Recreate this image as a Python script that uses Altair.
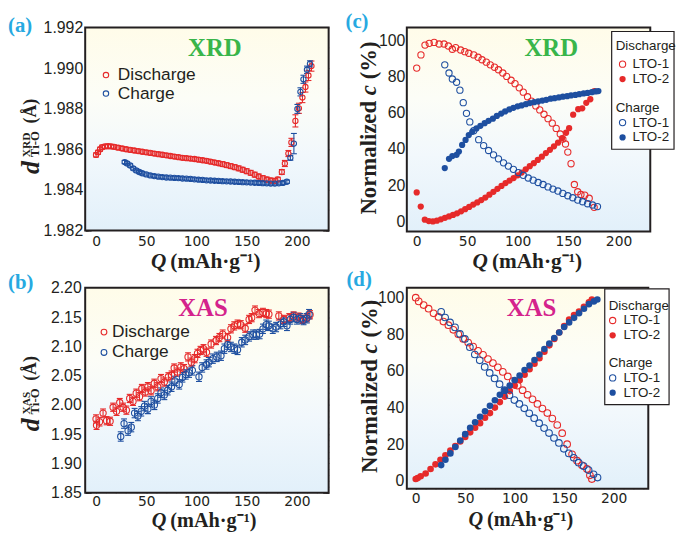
import altair as alt
import pandas as pd

# ---------------- data ----------------
# (a) XRD Ti-O distance
QA_DIS = [0, 2, 4, 6, 9, 12, 15, 18, 22, 26, 30, 34, 38, 42, 46, 50, 54, 58, 62, 66, 70, 74, 78, 82, 86, 90,
          94, 98, 102, 106, 110, 114, 118, 122, 126, 130, 134, 138, 142, 146, 150, 154, 158, 162, 166, 170,
          174, 178, 181, 185, 188, 191.5, 194.5, 198.5, 202, 205.5, 208.5, 211.5, 214.5]
DA_DIS = [1.98572, 1.98585, 1.98600, 1.98610, 1.98614, 1.98615, 1.98614, 1.98612,
          1.98608, 1.98604, 1.98600, 1.98597, 1.98594, 1.98591, 1.98588, 1.98585, 1.98582, 1.98579,
          1.98576, 1.98573, 1.98570, 1.98567, 1.98564, 1.98561, 1.98558, 1.98556, 1.98554, 1.98552,
          1.98549, 1.98546, 1.98543, 1.98539, 1.98535, 1.98531, 1.98527, 1.98522, 1.98517, 1.98512,
          1.98506, 1.98499, 1.98492, 1.98484, 1.98475, 1.98466, 1.98458, 1.98451, 1.98446, 1.98444,
          1.98452, 1.98488, 1.98530, 1.98579, 1.98634, 1.98740, 1.98802, 1.98855, 1.98907, 1.98964, 1.99010]
EA_DIS = [0.00010] * 34 + [0.00012] * 14 + [0.00010, 0.00012, 0.00015, 0.00015, 0.00020, 0.00030,
                                             0.00025, 0.00025, 0.00025, 0.00025, 0.00025]
QA_CHG = [28.5, 31, 34, 37, 40, 43, 46, 50, 54, 58, 62, 66, 70, 74, 78, 82, 86, 90, 94, 98, 102, 106, 110,
          114, 118, 122, 126, 130, 134, 138, 142, 146, 150, 154, 158, 162, 166, 170, 174, 178, 182, 186, 190,
          193.5, 197, 200.5, 203.5, 206.5, 210, 213]
DA_CHG = [1.98537, 1.98530, 1.98520, 1.98506, 1.98496, 1.98488, 1.98482,
          1.98476, 1.98471, 1.98468, 1.98465, 1.98463, 1.98461, 1.98460, 1.98459, 1.98458, 1.98456,
          1.98455, 1.98454, 1.98452, 1.98450, 1.98449, 1.98447, 1.98446, 1.98445, 1.98444, 1.98443,
          1.98442, 1.98441, 1.98440, 1.98439, 1.98438, 1.98437, 1.98436, 1.98435, 1.98434, 1.98433,
          1.98432, 1.98431, 1.98431, 1.98432, 1.98434, 1.98440,
          1.98558, 1.98628, 1.98799, 1.98883, 1.98945, 1.98992, 1.99021]
EA_CHG = [0.00008] * 43 + [0.00012, 0.00050, 0.00022, 0.00020, 0.00020, 0.00018, 0.00015]

# (b) XAS Ti-O distance
QB_DIS = [0, 0.5, 3.5, 7, 10.5, 14, 17, 20.4, 23.6, 26.9, 30.2, 33.5, 36.8, 40, 43.3, 45.6, 49, 51.6, 54.8,
          58, 61.4, 64.7, 68, 72, 75.2, 77.8, 81, 84.4, 87.7, 91.6, 94.9, 98.2, 101, 104, 107, 110, 114.6,
          119.5, 122.8, 126.1, 131, 134.3, 137.6, 140.9, 144.1, 148.5, 152.4, 155, 158.3, 162.3, 166.2,
          169.5, 172.1, 182, 186.9, 192.4, 196.7, 201.7, 205.6, 209.9, 213.1]
DB_DIS = [1.976, 1.965, 1.971, 1.986, 1.973, 1.972, 1.996, 1.989, 2.004, 1.996, 1.991, 2.011, 2.006, 2.020,
          2.014, 2.028, 2.022, 2.031, 2.024, 2.037, 2.031, 2.045, 2.039, 2.048, 2.051, 2.063, 2.056, 2.065,
          2.062, 2.082, 2.073, 2.079, 2.088, 2.093, 2.096, 2.090, 2.104, 2.110, 2.115, 2.121, 2.115, 2.130,
          2.135, 2.138, 2.137, 2.131, 2.146, 2.149, 2.162, 2.156, 2.158, 2.156, 2.155, 2.152, 2.146, 2.149,
          2.152, 2.150, 2.146, 2.149, 2.154]
EB_DIS = [0.007] * 61
QB_CHG = [24.6, 27.9, 31.9, 35.1, 38.4, 41.7, 45, 48.3, 51.6, 54.8, 58.1, 61.4, 64.7, 68, 71.3, 75.2, 78.5,
          82.8, 86, 89.3, 92.6, 95.9, 102.5, 105.7, 110, 112.3, 116.3, 120.2, 124.4, 127.8, 131, 134.3,
          137.6, 140.9, 145.1, 148.5, 152.4, 156.3, 159.6, 162.9, 166.2, 169.5, 172.1, 176, 179.3, 183.6,
          186.9, 190.1, 193.4, 196.7, 200, 203.3, 206.6, 209.9, 212.1]
DB_CHG = [1.946, 1.968, 1.956, 1.962, 1.986, 1.981, 1.989, 1.998, 1.993, 2.006, 2.000, 2.011, 2.021, 2.017,
          2.025, 2.031, 2.041, 2.035, 2.047, 2.052, 2.055, 2.059, 2.048, 2.064, 2.069, 2.073, 2.079, 2.082,
          2.084, 2.096, 2.103, 2.099, 2.096, 2.094, 2.107, 2.111, 2.117, 2.120, 2.120, 2.121, 2.130, 2.137,
          2.135, 2.130, 2.133, 2.138, 2.142, 2.135, 2.146, 2.150, 2.146, 2.148, 2.145, 2.148, 2.155]
EB_CHG = [0.008] * 55

# (c) XRD normalized c
QC_D1 = [0, 4.2, 8.2, 12.4, 17.3, 22.2, 27.1, 31.4, 35.3, 38.6, 43.5, 47.7, 51.6, 56.5, 60.8, 64.7, 69,
         72.9, 77.1, 81, 85.3, 89.2, 93.5, 97.4, 101.6, 105.6, 109.8, 113.7, 118, 121.9, 126.1, 130.1,
         134.3, 138.2, 142.2, 144.8, 147.4, 149.7, 152.9, 156.2, 159.5, 162.7, 166.5, 170.9, 175.8]
VC_D1 = [84.7, 92.0, 97.4, 98.4, 98.9, 98.0, 98.0, 96.9, 95.1, 96.0, 94.7, 93.8, 92.9, 92.0, 90.7, 89.3,
         88.0, 86.5, 85.2, 83.8, 82.0, 80.1, 78.0, 76.1, 73.8, 71.4, 68.9, 66.5, 63.8, 61.6, 59.2, 56.8,
         54.3, 51.4, 48.3, 45.5, 42.8, 38.3, 31.9, 20.4, 16.4, 14.9, 14.5, 12.8, 7.8]
QC_D2 = [0, 4, 8, 12, 16, 20, 24, 28, 32, 36, 40, 44, 48, 52, 56, 60, 64, 68, 72, 76, 80, 84, 88, 92, 96,
         100, 104, 108, 112, 116, 120, 124, 128, 132, 136, 140, 144, 148, 151, 155, 160, 164, 168, 172, 176]
VC_D2 = [16, 8.2, 1, 0.2, 0, 0.4, 1.2, 2.0, 2.8, 3.6, 4.5, 5.6, 6.8, 8.0, 9.3, 10.5, 11.8, 13.2, 14.8,
         16.4, 18, 19.6, 21.2, 22.6, 24, 25.5, 27, 28.8, 30.5, 32.2, 34, 35.8, 37.8, 39.6, 41.5, 43.5, 46,
         49, 51.5, 59, 62, 62.5, 65.5, 67.5, 72]
QC_C1 = [27.8, 32, 35.3, 39.5, 42.8, 46.1, 49.3, 52.6, 56.5, 61.4, 66.3, 71.2, 76.1, 81, 86, 90.8, 95.8,
         100.7, 105.6, 110.5, 115.4, 120.3, 125.2, 130.1, 135, 139.9, 144.8, 149.7, 154.6, 159.5, 164.4,
         169.3, 174.2, 179.1]
VC_C1 = [86.5, 82, 78.7, 76.9, 72.5, 65.6, 59.7, 55, 50.1, 45.2, 41.9, 39.2, 36.8, 34.6, 32.4, 30.6, 28.8,
         27, 25.5, 24, 22.8, 21.5, 20.4, 19.1, 17.9, 16.8, 15.5, 14.2, 13.1, 11.8, 10.9, 9.8, 9.1, 8.2]
QC_C2 = [27.8, 32, 35.3, 39.5, 41.8, 45, 48.4, 51.6, 55, 59.2, 63.1, 67.3, 71.2, 75.5, 79.4, 83.7, 87.6,
         91.8, 95.8, 100, 103.9, 108.2, 112.1, 116.3, 120.3, 124.5, 128.4, 132.7, 136.6, 140.8, 144.8, 149,
         152.9, 157.2, 161.1, 165.4, 169.3, 173.5, 177.5, 180]
VC_C2 = [29.5, 34.6, 36.1, 36.8, 38.6, 42.3, 45, 47.7, 49.5, 51.4, 52.8, 54.3, 55.6, 56.8, 58.3, 59.6, 60.8,
         61.9, 62.8, 63.6, 64.1, 64.8, 65.4, 65.9, 66.3, 66.8, 67.2, 67.8, 68.1, 68.5, 68.9, 69.2, 69.6,
         69.9, 70.3, 70.7, 71, 71.4, 71.8, 72]

# (d) XAS normalized c
QD_D1 = [0, 3, 8, 13, 18, 23, 28, 33, 38, 43, 48, 53, 58, 63, 68, 73, 78, 83, 88, 93, 98, 103, 108, 113,
         118, 123, 128, 133, 138, 143, 148, 153, 158, 163, 168, 173, 176, 178]
VD_D1 = [100, 98, 96, 94, 91.5, 89.5, 87, 85, 82.5, 80, 77.5, 75.5, 73.3, 71, 68.8, 66.5, 64.3, 62, 59.5,
         57, 54.5, 52, 49.5, 47, 44.5, 42, 39.5, 37, 34, 30.5, 26, 20, 14.5, 11, 8.5, 6.5, 3, 1]
QD_D2 = [0, 2, 5, 10, 15, 20, 25, 30, 35, 40, 45, 50, 55, 60, 65, 70, 75, 80, 85, 90, 95, 100, 105, 110,
         115, 120, 125, 130, 135, 140, 145, 150, 155, 160, 165, 170, 175, 178]
VD_D2 = [1, 1.5, 2.5, 4, 6.5, 9, 11.5, 14, 16.5, 19, 21.5, 24, 26.5, 29, 31.5, 34.5, 37, 40, 43, 46, 49, 52,
         55, 58, 61, 64, 67, 70.5, 74, 77.5, 81, 84.5, 88, 90.5, 92.5, 95, 97.5, 99]
QD_C1 = [25.7, 29.7, 34.7, 39.7, 44.7, 49.7, 54.7, 59.7, 64.7, 69.7, 74.7, 79.7, 84.7, 89.7, 94.7, 99.7,
         104.7, 109.7, 114.7, 119.7, 124.7, 129.7, 134.7, 139.7, 144.7, 149.7, 154.7, 159.7, 164.7, 169.7,
         174.7, 179.7, 183.7]
VD_C1 = [92.3, 89.2, 86.5, 83.8, 80.2, 77.5, 73, 69, 65.8, 62.2, 58.9, 55.9, 52.8, 49.5, 46.8, 44.1, 42,
         39.6, 36.9, 34.2, 31.5, 28.8, 26.1, 23.4, 20.7, 17.5, 15, 12.6, 9.9, 8.1, 5.9, 3.6, 1.8]
QD_C2 = [25.7, 30, 35, 40, 45, 50, 55, 60, 65, 70, 75, 80, 85, 90, 95, 100, 105, 110, 115, 120, 125, 130,
         135, 140, 145, 150, 155, 160, 165, 170, 175, 180, 183.5]
VD_C2 = [8.6, 11.5, 15, 18.5, 22, 25.5, 29, 32, 35, 38, 41, 44, 47, 49.5, 52, 55, 57.5, 60.5, 63, 66, 69,
         72, 75, 78, 81, 84, 86.5, 89, 91.5, 94, 96.5, 98, 99]

# tick values
X_MAJ = [0, 50, 100, 150, 200]
X_MIN = [0, 10, 20, 30, 40, 50, 60, 70, 80, 90, 100, 110, 120, 130, 140, 150, 160, 170, 180, 190, 200,
         210, 220, 230]
YA_MAJ = [1.982, 1.984, 1.986, 1.988, 1.990, 1.992]
YA_MIN = [1.982, 1.983, 1.984, 1.985, 1.986, 1.987, 1.988, 1.989, 1.990, 1.991, 1.992]
YB_MAJ = [1.85, 1.90, 1.95, 2.00, 2.05, 2.10, 2.15, 2.20]
YB_MIN = [round(1.85 + 0.01 * i, 2) for i in range(36)]
YC_MAJ = [0, 20, 40, 60, 80, 100]
YC_MIN = [0, 5, 10, 15, 20, 25, 30, 35, 40, 45, 50, 55, 60, 65, 70, 75, 80, 85, 90, 95, 100, 105]

# ---------------- style ----------------
INK = "#231F20"
RED = "#E62A2A"
BLUE = "#1E4FA0"
GREEN = "#39B54A"
MAGENTA = "#D4238C"
CYAN = "#27A9E1"
SERIF = "Liberation Serif"
SANS = "Liberation Sans"
XFONT = "DejaVu Sans"
ONE = pd.DataFrame({"k": [0]})
GRAD = alt.LinearGradient(
    gradient="linear",
    stops=[alt.GradientStop(color="#FFFCE9", offset=0),
           alt.GradientStop(color="#FCFDF7", offset=0.35),
           alt.GradientStop(color="#F2F8FC", offset=0.62),
           alt.GradientStop(color="#E2F0FA", offset=1)],
    x1=0, x2=0, y1=0, y2=1)
FULL = dict(x=alt.value(0), x2=alt.value("width"), y=alt.value(0), y2=alt.value("height"))


def txt(text, x, y, size, color=INK, font=SERIF, weight="bold", style="normal",
        align="left", baseline="alphabetic", angle=0):
    return alt.Chart(ONE).mark_text(
        text=text, font=font, fontSize=size, fontWeight=weight, fontStyle=style,
        align=align, baseline=baseline, angle=angle, color=color
    ).encode(x=alt.value(x), y=alt.value(y))


def sym(x, y, color, filled, size):
    return alt.Chart(ONE).mark_point(
        shape="circle", filled=filled, size=size, color=color, opacity=1, strokeWidth=1.1
    ).encode(x=alt.value(x), y=alt.value(y))


def frame_layers():
    bg = alt.Chart(ONE).mark_rect(fill=GRAD, strokeWidth=0).encode(**FULL)
    fr = alt.Chart(ONE).mark_rect(filled=False, stroke=INK, strokeWidth=2).encode(**FULL)
    return bg, fr


def axis_layers(df, xs, ys, ymaj, ymin, yfmt, xlp, ylp):
    base = dict(domain=False, grid=False, title=None, tickColor=INK, tickWidth=1.2)
    lab = dict(labelColor=INK, labelOverlap=False, labelFlush=False)
    specs = [
        (alt.Axis(orient="bottom", values=X_MAJ, tickSize=6, offset=-6, labels=True, format="d",
                  labelFont=XFONT, labelFontSize=14, labelPadding=xlp, **lab, **base),
         alt.Axis(orient="left", values=ymaj, tickSize=6, offset=-6, labels=True, format=yfmt,
                  labelFont=SANS, labelFontSize=16, labelPadding=ylp, **lab, **base)),
        (alt.Axis(orient="bottom", values=X_MIN, tickSize=3, offset=-3, labels=False, **base),
         alt.Axis(orient="left", values=ymin, tickSize=3, offset=-3, labels=False, **base)),
        (alt.Axis(orient="top", values=X_MAJ, tickSize=6, offset=-6, labels=False, **base),
         alt.Axis(orient="right", values=ymaj, tickSize=6, offset=-6, labels=False, **base)),
        (alt.Axis(orient="top", values=X_MIN, tickSize=3, offset=-3, labels=False, **base),
         alt.Axis(orient="right", values=ymin, tickSize=3, offset=-3, labels=False, **base)),
    ]
    out = []
    for ax, ay in specs:
        out.append(alt.Chart(df).mark_point(opacity=0).encode(
            x=alt.X("Q:Q", scale=xs, axis=ax), y=alt.Y("v:Q", scale=ys, axis=ay)))
    return out


def series_df(q, v, e=None):
    d = pd.DataFrame({"Q": q, "v": v})
    if e is not None:
        d["lo"] = d["v"] - pd.Series(e)
        d["hi"] = d["v"] + pd.Series(e)
    return d


def err_layers(df, xs, ys, color):
    X = alt.X("Q:Q", scale=xs, axis=None)
    rule = alt.Chart(df).mark_rule(color=color, strokeWidth=1.1).encode(
        x=X, y=alt.Y("lo:Q", scale=ys, axis=None), y2="hi:Q")
    lo = alt.Chart(df).mark_tick(orient="horizontal", size=6, thickness=1.1, color=color, opacity=1).encode(
        x=X, y=alt.Y("lo:Q", scale=ys, axis=None))
    hi = alt.Chart(df).mark_tick(orient="horizontal", size=6, thickness=1.1, color=color, opacity=1).encode(
        x=X, y=alt.Y("hi:Q", scale=ys, axis=None))
    return [rule, lo, hi]


def pts(df, xs, ys, color, filled, size):
    return alt.Chart(df).mark_point(shape="circle", filled=filled, size=size, color=color,
                                    opacity=1, strokeWidth=1.1).encode(
        x=alt.X("Q:Q", scale=xs, axis=None), y=alt.Y("v:Q", scale=ys, axis=None))


def ytitle_d(sup, A):
    return [txt("d", -47, A, 26, style="italic", angle=270),
            txt(sup, -56, A - 17, 11.5, angle=270),
            txt("Ti-O", -47, A - 17, 13, angle=270),
            txt("(Å)", -49.6, A - 51, 18, angle=270)]


def ytitle_c(bx, start):
    return [txt("Normalized", bx, start, 23, angle=270),
            txt("c", bx, start - 120.7, 23, style="italic", angle=270),
            txt("(%)", bx, start - 136.7, 23, angle=270)]


def xtitle(qx, base, size):
    return [txt("Q", qx, base, size, style="italic", align="right"),
            txt("(mAh·g⁻¹)", qx + 4, base, size)]


def legend4(bx0, bx1, by0, by1, tx, cx, lx, rows, size):
    out = [alt.Chart(ONE).mark_rect(fill="white", stroke=INK, strokeWidth=1.2).encode(
        x=alt.value(bx0), x2=alt.value(bx1), y=alt.value(by0), y2=alt.value(by1))]
    labels = [("Discharge", None, None), ("LTO-1", RED, False), ("LTO-2", RED, True),
              ("Charge", None, None), ("LTO-1", BLUE, False), ("LTO-2", BLUE, True)]
    for (lab, col, fil), yy in zip(labels, rows):
        if col is None:
            out.append(txt(lab, tx, yy, 13.5, font=SANS, weight="normal", baseline="middle"))
        else:
            out.append(sym(cx, yy, col, fil, size))
            out.append(txt(lab, lx, yy, 13.5, font=SANS, weight="normal", baseline="middle"))
    return out


def legend2(cx, tx, y1, y2, size):
    return [sym(cx, y1, RED, False, size),
            txt("Discharge", tx, y1, 17.5, font=SANS, weight="normal", baseline="middle"),
            sym(cx, y2, BLUE, False, size),
            txt("Charge", tx, y2, 17.5, font=SANS, weight="normal", baseline="middle")]


def panel(layers, w, h):
    return alt.layer(*layers).resolve_axis(x="independent", y="independent").properties(width=w, height=h)


# ---------------- panel (a) ----------------
xsA = alt.Scale(domain=[-10.8, 231.6], nice=False, zero=False)
ysA = alt.Scale(domain=[1.982, 1.992], nice=False, zero=False)
dA1 = series_df(QA_DIS, DA_DIS, EA_DIS)
dA2 = series_df(QA_CHG, DA_CHG, EA_CHG)
bg, fr = frame_layers()
A = panel([bg] + axis_layers(dA1, xsA, ysA, YA_MAJ, YA_MIN, ".3f", 4, 2.5)
          + err_layers(dA1, xsA, ysA, RED) + err_layers(dA2, xsA, ysA, BLUE)
          + [pts(dA1, xsA, ysA, RED, False, 28), pts(dA2, xsA, ysA, BLUE, False, 28), fr,
             txt("(a)", -78, 4.5, 21, CYAN), txt("XRD", 131, 29, 25, GREEN, align="center")]
          + legend2(21, 33, 48, 66.7, 30) + ytitle_d("XRD", 148) + xtitle(82, 243, 21.5), 246, 205)

# ---------------- panel (b) ----------------
ysB = alt.Scale(domain=[1.85, 2.20], nice=False, zero=False)
dB1 = series_df(QB_DIS, DB_DIS, EB_DIS)
dB2 = series_df(QB_CHG, DB_CHG, EB_CHG)
bg, fr = frame_layers()
B = panel([bg] + axis_layers(dB1, xsA, ysB, YB_MAJ, YB_MIN, ".2f", 2, 4)
          + err_layers(dB1, xsA, ysB, RED) + err_layers(dB2, xsA, ysB, BLUE)
          + [pts(dB1, xsA, ysB, RED, False, 40), pts(dB2, xsA, ysB, BLUE, False, 40), fr,
             txt("(b)", -78, 1.5, 21, CYAN), txt("XAS", 119, 28, 25, MAGENTA, align="center")]
          + legend2(19, 27, 44.7, 65.3, 34) + ytitle_d("XAS", 145) + xtitle(82, 242, 20.5), 246, 207)

# ---------------- panel (c) ----------------
xsC = alt.Scale(domain=[-9.8, 231.4], nice=False, zero=False)
ysC = alt.Scale(domain=[-5.5, 107.1], nice=False, zero=False)
c1 = series_df(QC_D1, VC_D1)
c2 = series_df(QC_D2, VC_D2)
c3 = series_df(QC_C1, VC_C1)
c4 = series_df(QC_C2, VC_C2)
bg, fr = frame_layers()
C = panel([bg] + axis_layers(c1, xsC, ysC, YC_MAJ, YC_MIN, "d", 3, 2)
          + [pts(c1, xsC, ysC, RED, False, 40), pts(c2, xsC, ysC, RED, True, 40),
             pts(c3, xsC, ysC, BLUE, False, 40), pts(c4, xsC, ysC, BLUE, True, 40), fr,
             txt("(c)", -62, 0.6, 21, CYAN), txt("XRD", 146, 29, 25, GREEN, align="center")]
          + legend4(207, 270, 4, 123, 211, 218, 228, [19, 37, 52, 81, 96, 111], 40)
          + ytitle_c(-31, 189) + xtitle(82, 243, 21.5), 246, 206)

# ---------------- panel (d) ----------------
xsD = alt.Scale(domain=[-9, 235], nice=False, zero=False)
ysD = alt.Scale(domain=[-4.3, 105.4], nice=False, zero=False)
e1 = series_df(QD_D1, VD_D1)
e2 = series_df(QD_D2, VD_D2)
e3 = series_df(QD_C1, VD_C1)
e4 = series_df(QD_C2, VD_C2)
bg, fr = frame_layers()
D = panel([bg] + axis_layers(e1, xsD, ysD, YC_MAJ, YC_MIN, "d", 3, 3)
          + [pts(e1, xsD, ysD, RED, False, 45), pts(e2, xsD, ysD, RED, True, 45),
             pts(e3, xsD, ysD, BLUE, False, 45), pts(e4, xsD, ysD, BLUE, True, 45), fr,
             txt("(d)", -61, -1.4, 21, CYAN), txt("XAS", 126, 28, 25, MAGENTA, align="center")]
          + legend4(200, 265, 1, 118, 204, 208, 219, [18, 33, 48, 76, 91, 106], 40)
          + ytitle_c(-30, 187) + xtitle(77, 241, 20.5), 244, 203)

chart = alt.concat(A, C, B, D, columns=2, spacing={"row": 57, "column": 79}, bounds="flush").properties(
    padding={"left": 0, "top": 0, "right": 0, "bottom": 0}, background="white"
).configure_view(strokeWidth=0)

chart.save("out.html", embed_options={"renderer": "svg", "actions": False})
